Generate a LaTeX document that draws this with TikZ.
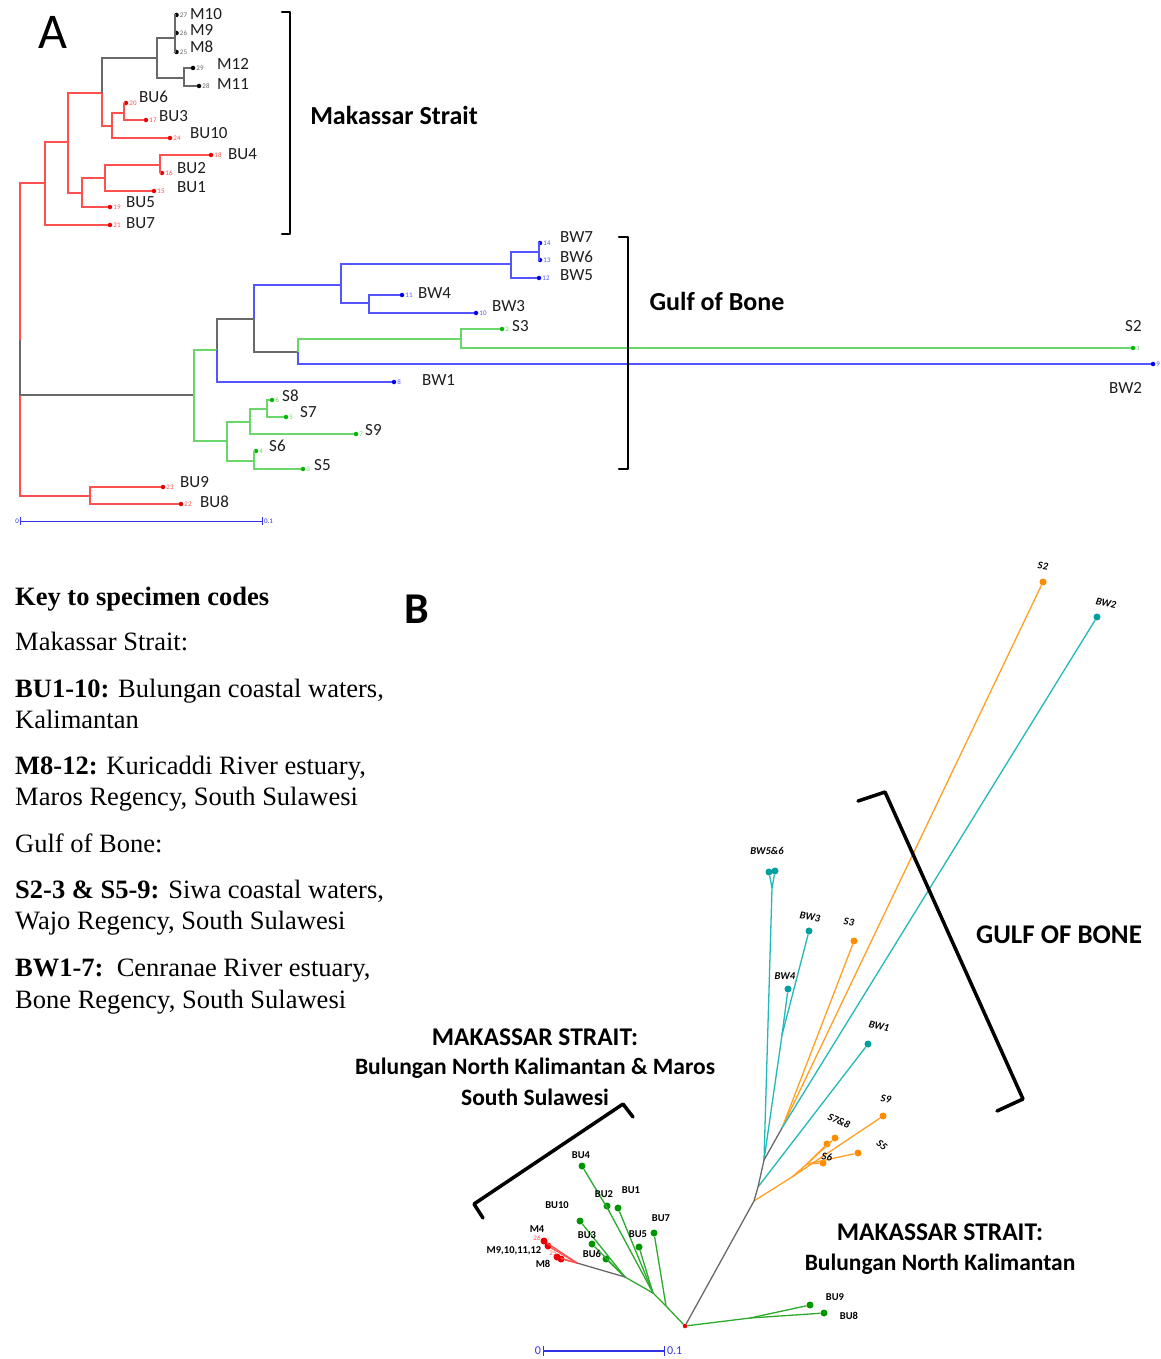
\documentclass[tikz,border=0pt]{standalone}
\usepackage{fontspec}
\setmainfont{Carlito}
\newfontfamily\keyfont{Liberation Serif}
\usetikzlibrary{positioning}

\definecolor{redln}{RGB}{255,80,80}
\definecolor{redpt}{RGB}{235,0,0}
\definecolor{blueln}{RGB}{85,85,255}
\definecolor{bluept}{RGB}{0,0,235}
\definecolor{greenln}{RGB}{105,215,105}
\definecolor{greenpt}{RGB}{0,185,0}
\definecolor{grayln}{RGB}{105,105,105}
\definecolor{labtext}{RGB}{30,30,30}
\definecolor{cyanln}{RGB}{35,185,185}
\definecolor{cyanpt}{RGB}{0,160,160}
\definecolor{orangeln}{RGB}{255,160,35}
\definecolor{orangept}{RGB}{255,140,0}
\definecolor{greenB}{RGB}{45,170,45}
\definecolor{greenBpt}{RGB}{0,150,0}
\definecolor{scaleblue}{RGB}{50,50,230}

\tikzset{
  tip/.style={circle,fill=#1,inner sep=0pt,minimum size=4.5pt},
  bigtip/.style={circle,fill=#1,inner sep=0pt,minimum size=7pt},
  num/.style={font=\fontsize{7}{7}\selectfont,text=#1,inner sep=0.8pt},
  leaf/.style={font=\fontsize{17}{17}\selectfont,text=labtext,inner sep=0pt,anchor=west},
  tag/.style={font=\fontsize{10.5}{10.5}\selectfont\bfseries,text=black,inner sep=0pt},
  gtag/.style={font=\fontsize{10.5}{10.5}\selectfont\bfseries\itshape,text=black,inner sep=0pt},
  region/.style={font=\fontsize{25.5}{25.5}\selectfont\bfseries,inner sep=0pt},
  subregion/.style={font=\fontsize{23.5}{23.5}\selectfont\bfseries,inner sep=0pt},
  keyline/.style={font=\fontsize{26.5}{26.5}\selectfont\keyfont,inner sep=0pt,anchor=base west},
  bracket/.style={draw=black,line width=2.5pt,line join=round,line cap=round},
  scalebar/.style={draw=scaleblue,line width=1pt,|-|},
  redA/.style={draw=redln,line width=1.2pt},
  grayA/.style={draw=grayln,line width=1.2pt},
  greenA/.style={draw=greenln,line width=1.2pt},
  blueA/.style={draw=blueln,line width=1.2pt},
  edgeB/.style={draw=#1,line width=1.3pt}
}

\begin{document}
\begin{tikzpicture}[x=1pt,y=-1pt]
\fill[white] (0,0) rectangle (1161,1359);
\useasboundingbox (0,0) rectangle (1161,1359);

%%% panel A: rooted tree
\node[font=\fontsize{50}{50}\selectfont,inner sep=0pt] (titleA) at (53,32) {A};

% internal nodes
\coordinate (r0) at (20,340);
\coordinate (m0) at (45,183);
\coordinate (m1) at (68,142);
\coordinate (m2) at (102,93);
\coordinate (m3) at (82,193);
\coordinate (mm) at (157,58);
\coordinate (m4) at (175,38);
\coordinate (m5) at (184,78);
\coordinate (b1) at (112,126);
\coordinate (b2) at (124,113);
\coordinate (b3) at (105,178);
\coordinate (b4) at (160,165);
\coordinate (n0) at (90,496);
\coordinate (g0) at (194,395);
\coordinate (g1) at (217,350);
\coordinate (g2) at (254,319);
\coordinate (g3) at (298,352);
\coordinate (w1) at (341,285);
\coordinate (w2) at (511,264);
\coordinate (w3) at (539,252);
\coordinate (w4) at (369,303);
\coordinate (s1) at (461,339);
\coordinate (sa) at (227,441);
\coordinate (sb) at (250,422);
\coordinate (sc) at (267,409);
\coordinate (sd) at (254,461);

% tips with their numbers
\foreach \n/\x/\y/\k in {m10/176.5/15/27,m9/176.5/33/26,m8/176.5/52/25,m12/193/68/29,m11/199/86/28}
  \node[tip=black,label={[num=grayln]right:\k}] (\n) at (\x,\y) {};
\foreach \n/\x/\y/\k in {bu6/126/103/20,bu3/146/120/17,bu10/170/138/24,bu4/211/155/18,bu2/162/173/16,
  bu1/154/191/15,bu5/110/207/19,bu7/110/225/21,bu9/163/487/23,bu8/181/504/22}
  \node[tip=redpt,label={[num=redln]right:\k}] (\n) at (\x,\y) {};
\foreach \n/\x/\y/\k in {bw7/540/243/14,bw6/540/260/13,bw5/539/278/12,bw4/402/295/11,bw3/476/313/10,
  bw1/394/382/8,bw2/1153/364/9}
  \node[tip=bluept,label={[num=blueln]right:\k}] (\n) at (\x,\y) {};
\foreach \n/\x/\y/\k in {s3/502/329/2,s2/1133/348/1,s8/272/400/6,s7/286/417/5,s9/356/434/7,
  s6/256/451/4,s5/303/469/3}
  \node[tip=greenpt,label={[num=greenln]right:\k}] (\n) at (\x,\y) {};

% branches
\foreach \p/\c in {r0/n0,r0/m0,m0/m1,m0/bu7,m1/m2,m1/m3,m2/b1,b1/b2,b2/bu6,b2/bu3,b1/bu10,
  m3/bu5,m3/b3,b3/b4,b4/bu4,b4/bu2,b3/bu1,n0/bu9,n0/bu8}
  \draw[redA] (\p) |- (\c);
\foreach \p/\c in {r0/g0,m2/mm,mm/m4,mm/m5,m4/m10,m4/m9,m4/m8,m5/m12,m5/m11,g1/g2,g2/g3}
  \draw[grayA] (\p) |- (\c);
\foreach \p/\c in {g0/g1,g0/sa,sa/sb,sb/sc,sc/s8,sc/s7,sb/s9,sa/sd,sd/s6,sd/s5,g3/s1,s1/s3,s1/s2}
  \draw[greenA] (\p) |- (\c);
\foreach \p/\c in {g1/bw1,g2/w1,w1/w2,w2/w3,w3/bw7,w3/bw6,w2/bw5,w1/w4,w4/bw4,w4/bw3,g3/bw2}
  \draw[blueA] (\p) |- (\c);

% tip names
\foreach \n/\x/\y/\t in {M10/190/14/M10,M9/190/30/M9,M8/190/47/M8,M12/217/64/M12,M11/217/84/M11,
  BU6/139/97/BU6,BU3/159/116/BU3,BU10/190/133/BU10,BU4/228/154/BU4,BU2/177/168/BU2,BU1/177/187/BU1,
  BU5/126/202/BU5,BU7/126/223/BU7,BW7/560/237/BW7,BW6/560/257/BW6,BW5/560/275/BW5,BW4/418/293/BW4,
  BW3/492/306/BW3,S3/512/326/S3,S2/1125/326/S2,BW2/1109/388/BW2,BW1/422/380/BW1,S8/282/396/S8,
  S7/300/412/S7,S9/365/430/S9,S6/269/446/S6,S5/314/465/S5,BU9/180/482/BU9,BU8/200/502/BU8}
  \node[leaf] (name\n) at (\x,\y) {\t};

% clade brackets
\coordinate (ka1) at (282,12);
\coordinate (ka2) at (290,12);
\coordinate (ka3) at (290,234);
\coordinate (ka4) at (282,234);
\draw[bracket] (ka1) -- (ka2) -- (ka3) -- (ka4);
\node[region,font=\fontsize{26}{26}\selectfont\bfseries] (makA) at (394,115) {Makassar Strait};
\coordinate (kb1) at (619,237);
\coordinate (kb2) at (628,237);
\coordinate (kb3) at (628,469);
\coordinate (kb4) at (619,469);
\draw[bracket] (kb1) -- (kb2) -- (kb3) -- (kb4);
\node[region,font=\fontsize{26}{26}\selectfont\bfseries] (gulfA) at (717,301) {Gulf of Bone};

% scale
\coordinate (sbA0) at (20,521);
\coordinate (sbA1) at (263,521);
\draw[scalebar] (sbA0) -- (sbA1);
\node[num=scaleblue,left=0pt of sbA0] (zeroA) {0};
\node[num=scaleblue,right=0pt of sbA1] (tenthA) {0.1};

%%% key
\node[keyline,font=\fontsize{26.5}{26.5}\selectfont\keyfont\bfseries] (key0) at (15,605) {Key to specimen codes};
\node[keyline] (key1) at (15,650) {Makassar Strait:};
\node[keyline] (key2) at (15,697) {\textbf{BU1-10:} Bulungan coastal waters,};
\node[keyline] (key3) at (15,728) {Kalimantan};
\node[keyline] (key4) at (15,774) {\textbf{M8-12:} Kuricaddi River estuary,};
\node[keyline] (key5) at (15,805) {Maros Regency, South Sulawesi};
\node[keyline] (key6) at (15,852) {Gulf of Bone:};
\node[keyline] (key7) at (15,898) {\textbf{S2-3 \& S5-9:} Siwa coastal waters,};
\node[keyline] (key8) at (15,929) {Wajo Regency, South Sulawesi};
\node[keyline] (key9) at (15,976) {\textbf{BW1-7:}\ \ Cenranae River estuary,};
\node[keyline] (key10) at (15,1008) {Bone Regency, South Sulawesi};

%%% panel B: unrooted tree
\node[font=\fontsize{44}{44}\selectfont\bfseries,inner sep=0pt] (titleB) at (417,609) {B};

\coordinate (q1) at (754,1201);
\coordinate (q2) at (758,1187);
\coordinate (q3) at (764,1160);
\coordinate (q4) at (782,1128);
\coordinate (o1) at (792,1177);
\coordinate (o4) at (807,1164);
\coordinate (c1) at (782,1035);
\coordinate (c2) at (772,888);
\coordinate (u1) at (750,1318);
\coordinate (a1) at (666,1306);
\coordinate (a2) at (653,1293);
\coordinate (a3) at (609,1211);
\coordinate (a4) at (625,1277);
\coordinate (mx) at (577,1263);

\foreach \n/\x/\y in {S2/1043/582,S3/854/941,S9/883/1116,S7/827/1144,S8/835/1138,S6/823/1163,S5/858/1153}
  \node[bigtip=orangept] (t\n) at (\x,\y) {};
\foreach \n/\x/\y in {BW2/1097/617,BW1/868/1044,BW3/809/931,BW4/788/989,BW5/769/872,BW6/775/871}
  \node[bigtip=cyanpt] (t\n) at (\x,\y) {};
\foreach \n/\x/\y in {BU9/810/1305,BU8/824/1313,BU7/654/1233,BU5/639/1247,BU1/618/1208,BU2/607/1206,
  BU4/582/1166,BU6/606/1259,BU3/592/1244,BU10/580/1221}
  \node[bigtip=greenBpt] (t\n) at (\x,\y) {};
\foreach \n/\x/\y in {Ma/544/1241,Mb/548/1246,Mc/557/1257,Md/561/1259}
  \node[bigtip=redpt] (t\n) at (\x,\y) {};

\foreach \p/\c in {q1/o1,o1/tS9,o1/o4,o4/tS7,o4/tS8,o4/tS6,o4/tS5,q4/tS3,q4/tS2}
  \draw[edgeB=orangeln] (\p) -- (\c);
\foreach \p/\c in {q2/tBW1,q3/c1,c1/tBW4,c1/tBW3,q3/c2,c2/tBW5,c2/tBW6,q4/tBW2}
  \draw[edgeB=cyanln] (\p) -- (\c);
\foreach \p/\c in {a1/tBU7,a1/a2,a2/tBU5,a2/tBU1,a2/a3,a3/tBU2,a3/tBU4,a2/a4,a4/tBU6,a4/tBU3,a4/tBU10,
  u1/tBU9,u1/tBU8}
  \draw[edgeB=greenB] (\p) -- (\c);
\foreach \c in {tMa,tMb,tMc,tMd}
  \draw[edgeB=redln] (mx) -- (\c);
\node[tip=redpt] (R) at (685,1326) {};
\draw[edgeB=greenB] (R) -- (u1);
\draw[edgeB=greenB] (R) -- (a1);
\draw[edgeB=grayln] (R) -- (q1) -- (q2) -- (q3) -- (q4);
\draw[edgeB=grayln] (a4) -- (mx);
\node[num=redln] (mnum1) at (537,1238) {26};
\node[num=redln] (mnum2) at (553,1253) {25};

% tip names
\foreach \n/\x/\y/\t in {BU4/581/1155/BU4,BU2/604/1194/BU2,BU1/631/1190/BU1,BU7/661/1218/BU7,
  BU10/557/1205/BU10,BU3/587/1235/BU3,BU5/638/1234/BU5,BU6/592/1254/BU6,M4/537/1229/M4,
  M9/514/1251/{M9,10,11,12},M8/543/1264/M8,BU9/835/1297/BU9,BU8/849/1316/BU8}
  \node[tag] (tag\n) at (\x,\y) {\t};
\foreach \n/\x/\y/\r/\t in {S2/1043/566/-8/S2,BW2/1106/603/-12/BW2,BW56/767/851/0/BW5\&6,
  BW3/810/917/-8/BW3,S3/849/922/-8/S3,BW4/785/976/0/BW4,BW1/879/1026/-12/BW1,S9/886/1099/-8/S9,
  S78/839/1121/-25/S7\&8,S6/827/1157/-8/S6,S5/882/1145/-40/S5}
  \node[gtag,rotate=\r] (tag\n) at (\x,\y) {\t};

% group brackets
\coordinate (kc1) at (858,801);
\coordinate (kc2) at (885,792);
\coordinate (kc3) at (1023,1099);
\coordinate (kc4) at (997,1111);
\draw[bracket,line width=3.5pt] (kc1) -- (kc2) -- (kc3) -- (kc4);
\coordinate (kd1) at (483,1218);
\coordinate (kd2) at (474,1204);
\coordinate (kd3) at (623,1104);
\coordinate (kd4) at (633,1117);
\draw[bracket,line width=3.5pt] (kd1) -- (kd2) -- (kd3) -- (kd4);

\node[region,font=\fontsize{27}{27}\selectfont\bfseries] (gulfB) at (1059,935) {GULF OF BONE};
\node[region] (makB) at (535,1037) {MAKASSAR STRAIT:};
\node[subregion] (makB2) at (535,1068) {Bulungan North Kalimantan \& Maros};
\node[subregion] (makB3) at (535,1097) {South Sulawesi};
\node[region] (bulB) at (940,1232) {MAKASSAR STRAIT:};
\node[subregion] (bulB2) at (940,1264) {Bulungan North Kalimantan};

% scale
\coordinate (sbB0) at (543,1351);
\coordinate (sbB1) at (665,1351);
\draw[scalebar,line width=1.3pt] (sbB0) -- (sbB1);
\node[num=scaleblue,font=\fontsize{12}{12}\selectfont,left=1pt of sbB0] (zeroB) {0};
\node[num=scaleblue,font=\fontsize{12}{12}\selectfont,right=1pt of sbB1] (tenthB) {0.1};
\end{tikzpicture}
\end{document}
